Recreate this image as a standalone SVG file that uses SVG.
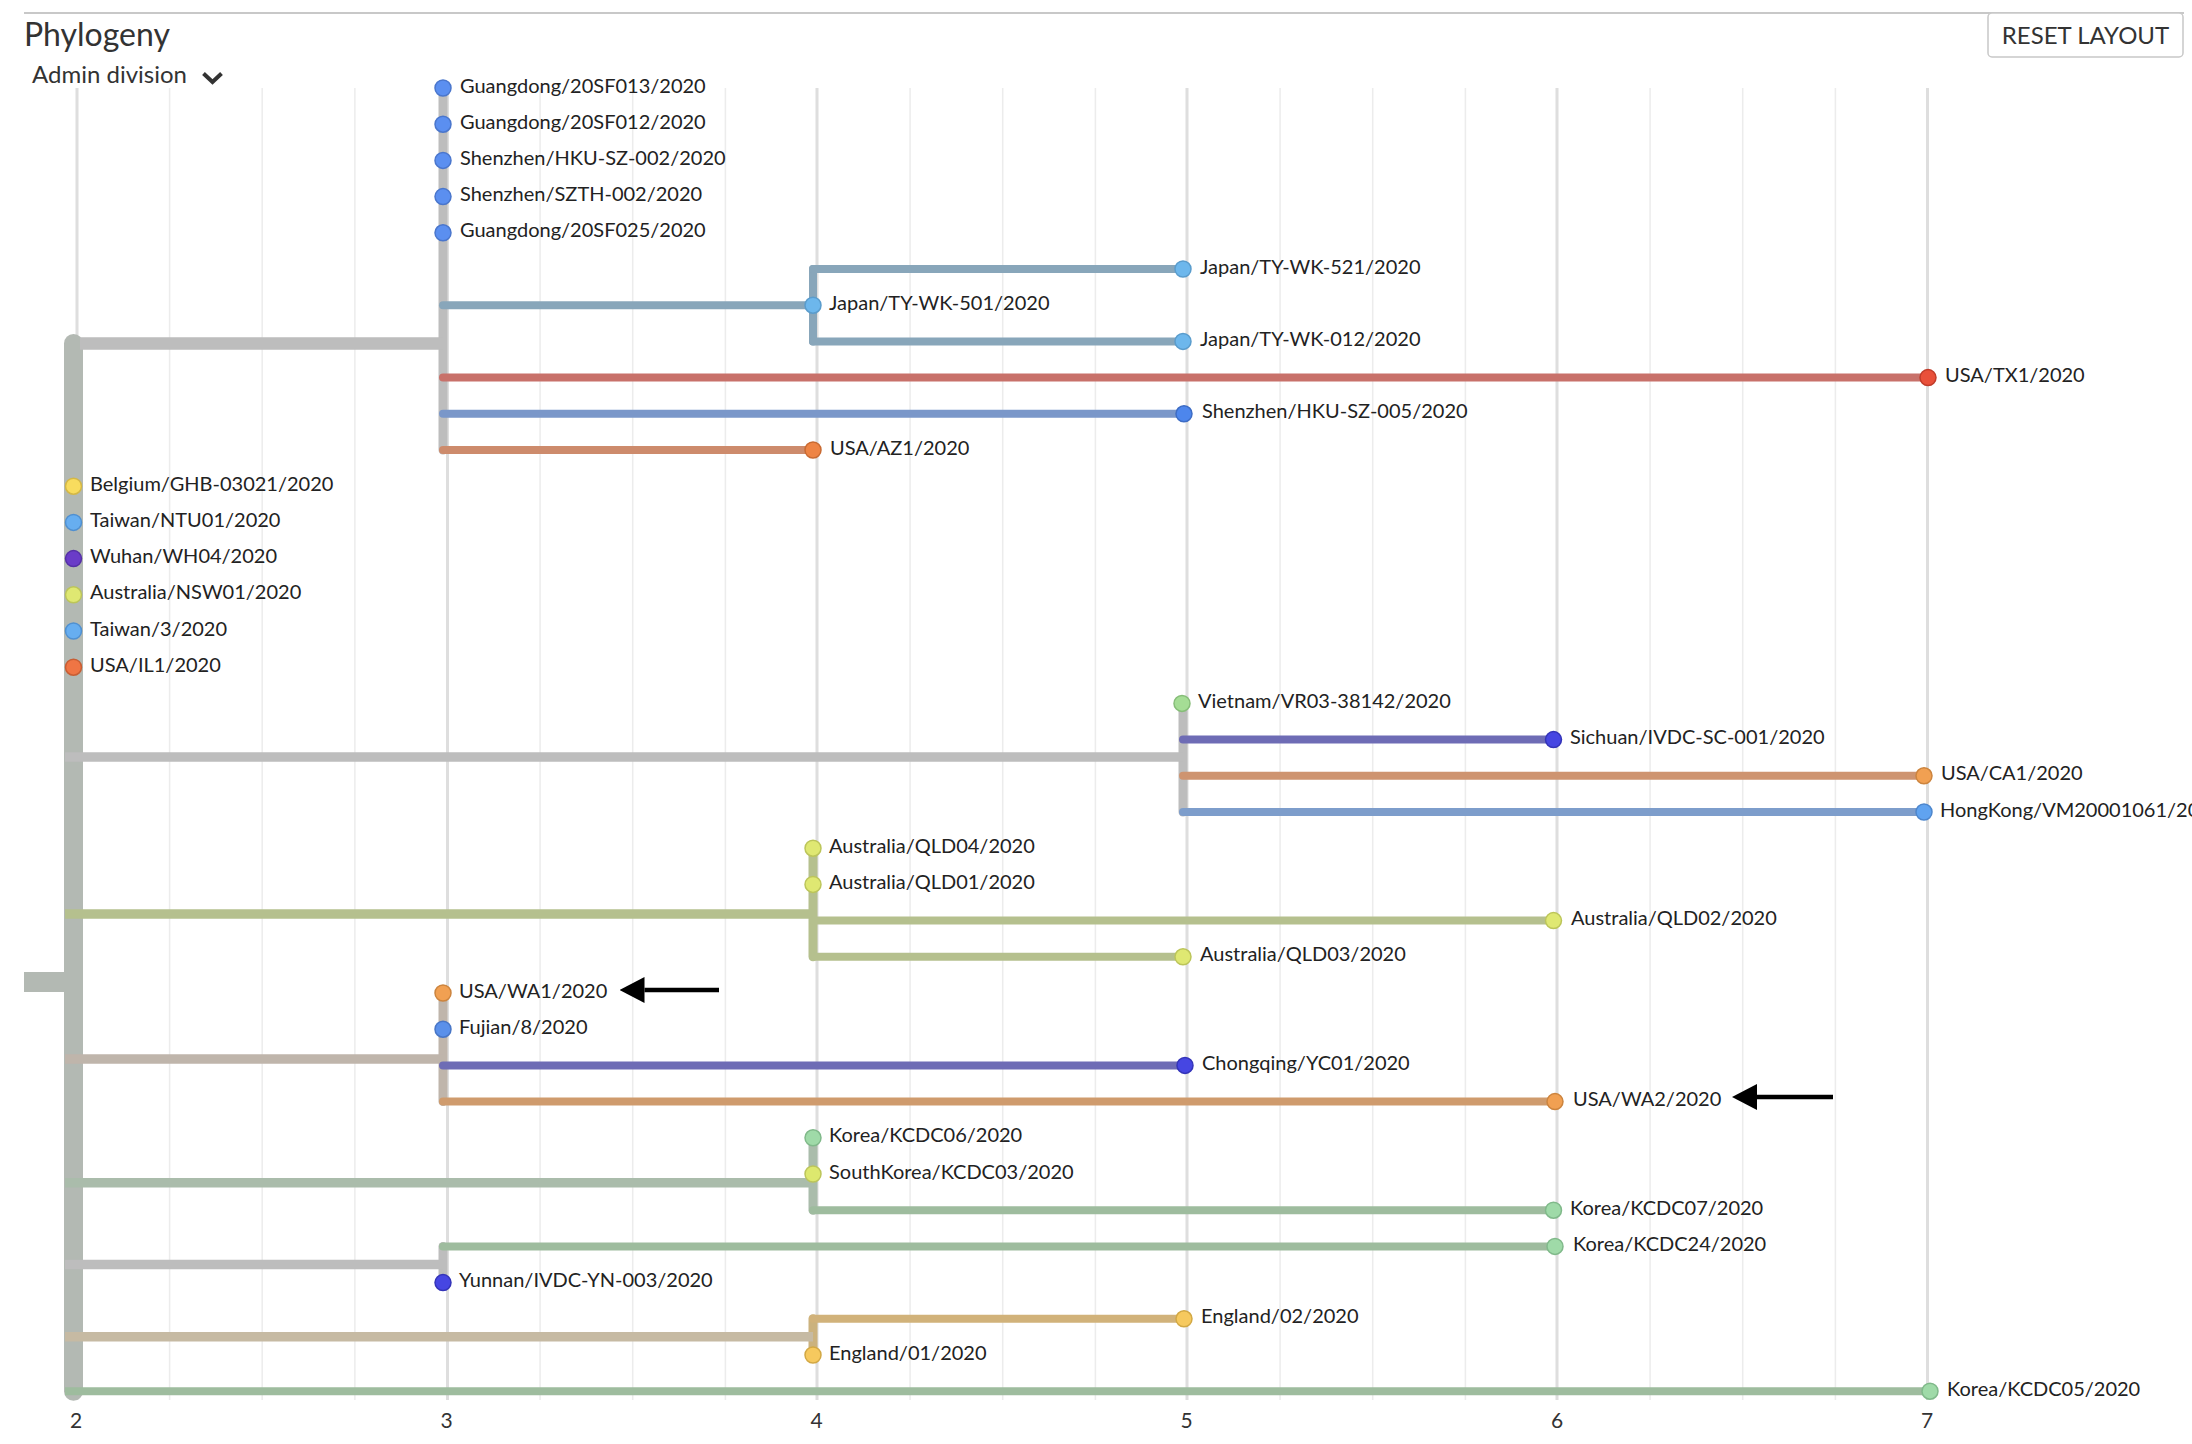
<svg xmlns="http://www.w3.org/2000/svg" width="2192" height="1444" viewBox="0 0 2192 1444">
<defs>
<style>
.t{font-family:Lato,"Liberation Sans",sans-serif;fill:#222}
.lbl{font-size:20px}
.ax{font-size:21px;fill:#333;text-anchor:middle}
.gmin{stroke:#ececec;stroke-width:1.5}
.gmaj{stroke:#dedede;stroke-width:3}
.br{fill:none;stroke-linecap:round}
.lf{stroke-width:8}
.st{stroke-width:9.5}
.vt{stroke-width:9}
.tip{stroke-width:1.5}
.arr{stroke:#000;stroke-width:4.5;fill:none}
</style>
<marker id="ah" markerUnits="userSpaceOnUse" markerWidth="25" markerHeight="26" viewBox="0 0 25 26" refX="0" refY="13" orient="auto">
<path d="M0,0 L25,13 L0,26 Z" fill="#000"/>
</marker>
</defs>
<rect width="2192" height="1444" fill="#fff"/>

<g id="header">
<line x1="24" y1="13" x2="2184" y2="13" stroke="#c8c8c8" stroke-width="2"/>
<text class="t" x="24" y="46" font-size="32" style="fill:#333">Phylogeny</text>
<text class="t" x="32" y="83" font-size="24" style="fill:#333">Admin division</text>
<path d="M203.5,73.5 L212.5,82 L221.5,73.5" fill="none" stroke="#333" stroke-width="4"/>
<rect x="1988" y="13" width="195" height="44" rx="4" fill="#fff" stroke="#c8c8c8" stroke-width="1.5"/>
<text class="t" x="2085.5" y="44" font-size="24" text-anchor="middle" style="fill:#333">RESET LAYOUT</text>
</g>

<g id="grid">
<line class="gmaj" x1="77" y1="88" x2="77" y2="1400"/>
<line class="gmin" x1="169.6" y1="88" x2="169.6" y2="1400"/>
<line class="gmin" x1="262.2" y1="88" x2="262.2" y2="1400"/>
<line class="gmin" x1="354.9" y1="88" x2="354.9" y2="1400"/>
<line class="gmaj" x1="447.5" y1="88" x2="447.5" y2="1400"/>
<line class="gmin" x1="540.1" y1="88" x2="540.1" y2="1400"/>
<line class="gmin" x1="632.7" y1="88" x2="632.7" y2="1400"/>
<line class="gmin" x1="725.4" y1="88" x2="725.4" y2="1400"/>
<line class="gmaj" x1="817" y1="88" x2="817" y2="1400"/>
<line class="gmin" x1="910.1" y1="88" x2="910.1" y2="1400"/>
<line class="gmin" x1="1002.7" y1="88" x2="1002.7" y2="1400"/>
<line class="gmin" x1="1095.4" y1="88" x2="1095.4" y2="1400"/>
<line class="gmaj" x1="1187" y1="88" x2="1187" y2="1400"/>
<line class="gmin" x1="1280.1" y1="88" x2="1280.1" y2="1400"/>
<line class="gmin" x1="1372.7" y1="88" x2="1372.7" y2="1400"/>
<line class="gmin" x1="1465.4" y1="88" x2="1465.4" y2="1400"/>
<line class="gmaj" x1="1557" y1="88" x2="1557" y2="1400"/>
<line class="gmin" x1="1650.1" y1="88" x2="1650.1" y2="1400"/>
<line class="gmin" x1="1742.7" y1="88" x2="1742.7" y2="1400"/>
<line class="gmin" x1="1835.4" y1="88" x2="1835.4" y2="1400"/>
<line class="gmaj" x1="1927.5" y1="88" x2="1927.5" y2="1400"/>
<text class="t ax" x="76" y="1428">2</text>
<text class="t ax" x="446.5" y="1428">3</text>
<text class="t ax" x="816.5" y="1428">4</text>
<text class="t ax" x="1186.5" y="1428">5</text>
<text class="t ax" x="1557" y="1428">6</text>
<text class="t ax" x="1927" y="1428">7</text>
</g>

<g id="connectors">
<!-- root -->
<rect x="24" y="972" width="45" height="20" fill="#b3b9b3"/>
<path class="br" d="M73.5,343.5 V1391.2" stroke="#b3b9b3" stroke-width="19"/>
<!-- internal verticals -->
<path class="br vt" d="M443,88 V450" stroke="#bdbdbd"/>
<path class="br vt" d="M813,269 V341.4" stroke="#88a6ba" style="stroke-width:8"/>
<path class="br vt" d="M1183,703.4 V812" stroke="#bdbdbd"/>
<path class="br vt" d="M813,848.2 V956.8" stroke="#b5c08e"/>
<path class="br vt" d="M443,993 V1101.6" stroke="#bfb5ab"/>
<path class="br vt" d="M813,1137.8 V1210.2" stroke="#aabcab"/>
<path class="br vt" d="M443,1246.4 V1282.6" stroke="#bdbdbd"/>
<path class="br vt" d="M813,1318.8 V1355" stroke="#cbb27e"/>
<!-- stems from root -->
<path d="M80,343.5 H443" stroke="#bdbdbd" stroke-width="12.5" fill="none"/>
<path class="st" d="M65,757 H1183" stroke="#bdbdbd" fill="none"/>
<path class="st" d="M65,914 H813" stroke="#b5c08e" fill="none"/>
<path class="st" d="M65,1059 H443" stroke="#bfb5ab" fill="none"/>
<path class="st" d="M65,1182.7 H813" stroke="#aabcab" fill="none"/>
<path class="st" d="M65,1264.5 H443" stroke="#bdbdbd" fill="none"/>
<path class="st" d="M65,1336.7 H813" stroke="#c6baa3" fill="none"/>
<path class="lf" d="M65,1391.2 H1928" stroke="#9ebc9e" fill="none"/>
<!-- top clade -->
<path class="br lf" d="M443,305.2 H813" stroke="#88a6ba"/>
<path class="br lf" d="M813,269 H1183" stroke="#88a6ba"/>
<path class="br lf" d="M813,341.4 H1183" stroke="#88a6ba"/>
<path class="br lf" d="M443,377.6 H1927" stroke="#c8716a"/>
<path class="br lf" d="M443,413.8 H1183" stroke="#7a97c9"/>
<path class="br lf" d="M443,450 H813" stroke="#cd8b6c"/>
<!-- node B -->
<path class="br lf" d="M1183,739.6 H1553.5" stroke="#6e6cb5"/>
<path class="br lf" d="M1183,775.8 H1924" stroke="#ce9470"/>
<path class="br lf" d="M1183,812 H1924" stroke="#7d9dcb"/>
<!-- node C -->
<path class="br lf" d="M813,920.6 H1553.5" stroke="#b5c08e"/>
<path class="br lf" d="M813,956.8 H1183" stroke="#b5c08e"/>
<!-- node D -->
<path class="br lf" d="M443,1065.4 H1183" stroke="#6e6cb5"/>
<path class="br lf" d="M443,1101.6 H1553.5" stroke="#cf9b6d"/>
<!-- node E -->
<path class="br lf" d="M813,1210.2 H1553.5" stroke="#9ebc9e"/>
<!-- node F -->
<path class="br lf" d="M443,1246.4 H1553.5" stroke="#9ebc9e"/>
<!-- node G -->
<path class="br lf" d="M813,1318.8 H1183" stroke="#d1b27a"/>
<!-- annotation arrows -->
<path class="arr" d="M719,990 H644.5" marker-end="url(#ah)"/>
<path class="arr" d="M1833,1097 H1757" marker-end="url(#ah)"/>
</g>

<g id="n-guangdong-20sf013"><circle class="tip" cx="443" cy="88" r="8" fill="#5b8ff0" stroke="#4a76cc"/><text class="t lbl" x="460" y="92.5">Guangdong/20SF013/2020</text></g>
<g id="n-guangdong-20sf012"><circle class="tip" cx="443" cy="124.2" r="8" fill="#5b8ff0" stroke="#4a76cc"/><text class="t lbl" x="460" y="128.7">Guangdong/20SF012/2020</text></g>
<g id="n-shenzhen-hku-sz-002"><circle class="tip" cx="443" cy="160.4" r="8" fill="#5b8ff0" stroke="#4a76cc"/><text class="t lbl" x="460" y="164.9">Shenzhen/HKU-SZ-002/2020</text></g>
<g id="n-shenzhen-szth-002"><circle class="tip" cx="443" cy="196.6" r="8" fill="#5b8ff0" stroke="#4a76cc"/><text class="t lbl" x="460" y="201.1">Shenzhen/SZTH-002/2020</text></g>
<g id="n-guangdong-20sf025"><circle class="tip" cx="443" cy="232.8" r="8" fill="#5b8ff0" stroke="#4a76cc"/><text class="t lbl" x="460" y="237.3">Guangdong/20SF025/2020</text></g>
<g id="n-japan-ty-wk-521"><circle class="tip" cx="1183" cy="269" r="8" fill="#6db7ec" stroke="#5a9ccc"/><text class="t lbl" x="1200" y="273.5">Japan/TY-WK-521/2020</text></g>
<g id="n-japan-ty-wk-501"><circle class="tip" cx="813" cy="305.2" r="8" fill="#6db7ec" stroke="#5a9ccc"/><text class="t lbl" x="829" y="309.7">Japan/TY-WK-501/2020</text></g>
<g id="n-japan-ty-wk-012"><circle class="tip" cx="1183" cy="341.4" r="8" fill="#6db7ec" stroke="#5a9ccc"/><text class="t lbl" x="1200" y="345.9">Japan/TY-WK-012/2020</text></g>
<g id="n-usa-tx1"><circle class="tip" cx="1928" cy="377.6" r="8" fill="#e9503a" stroke="#c03c2a"/><text class="t lbl" x="1945" y="382.1">USA/TX1/2020</text></g>
<g id="n-shenzhen-hku-sz-005"><circle class="tip" cx="1184" cy="413.8" r="8" fill="#4d86ec" stroke="#3d6cc4"/><text class="t lbl" x="1202" y="418.3">Shenzhen/HKU-SZ-005/2020</text></g>
<g id="n-usa-az1"><circle class="tip" cx="813" cy="450" r="8" fill="#ee8444" stroke="#c86a32"/><text class="t lbl" x="830" y="454.5">USA/AZ1/2020</text></g>
<g id="n-belgium"><circle class="tip" cx="73.5" cy="486.2" r="8" fill="#f8dc5e" stroke="#d4b846"/><text class="t lbl" x="90" y="490.7">Belgium/GHB-03021/2020</text></g>
<g id="n-taiwan-ntu01"><circle class="tip" cx="73.5" cy="522.4" r="8" fill="#67aef0" stroke="#5090d0"/><text class="t lbl" x="90" y="526.9">Taiwan/NTU01/2020</text></g>
<g id="n-wuhan-wh04"><circle class="tip" cx="73.5" cy="558.6" r="8" fill="#6a3cc8" stroke="#5530a6"/><text class="t lbl" x="90" y="563.1">Wuhan/WH04/2020</text></g>
<g id="n-australia-nsw01"><circle class="tip" cx="73.5" cy="594.8" r="8" fill="#dfe872" stroke="#bcc55a"/><text class="t lbl" x="90" y="599.3">Australia/NSW01/2020</text></g>
<g id="n-taiwan-3"><circle class="tip" cx="73.5" cy="631" r="8" fill="#67aef0" stroke="#5090d0"/><text class="t lbl" x="90" y="635.5">Taiwan/3/2020</text></g>
<g id="n-usa-il1"><circle class="tip" cx="73.5" cy="667.2" r="8" fill="#ef7544" stroke="#c85e34"/><text class="t lbl" x="90" y="671.7">USA/IL1/2020</text></g>
<g id="n-vietnam"><circle class="tip" cx="1182" cy="703.4" r="8" fill="#a5dd95" stroke="#86bd78"/><text class="t lbl" x="1198" y="707.9">Vietnam/VR03-38142/2020</text></g>
<g id="n-sichuan"><circle class="tip" cx="1553.5" cy="739.6" r="8" fill="#4646e2" stroke="#3434b8"/><text class="t lbl" x="1570" y="744.1">Sichuan/IVDC-SC-001/2020</text></g>
<g id="n-usa-ca1"><circle class="tip" cx="1924" cy="775.8" r="8" fill="#f1a052" stroke="#cc843e"/><text class="t lbl" x="1941" y="780.3">USA/CA1/2020</text></g>
<g id="n-hongkong"><circle class="tip" cx="1924" cy="812" r="8" fill="#60a3f0" stroke="#4d86cc"/><text class="t lbl" x="1940" y="816.5">HongKong/VM20001061/2020</text></g>
<g id="n-australia-qld04"><circle class="tip" cx="813" cy="848.2" r="8" fill="#dfe872" stroke="#bcc55a"/><text class="t lbl" x="829" y="852.7">Australia/QLD04/2020</text></g>
<g id="n-australia-qld01"><circle class="tip" cx="813" cy="884.4" r="8" fill="#dfe872" stroke="#bcc55a"/><text class="t lbl" x="829" y="888.9">Australia/QLD01/2020</text></g>
<g id="n-australia-qld02"><circle class="tip" cx="1553.5" cy="920.6" r="8" fill="#dfe872" stroke="#bcc55a"/><text class="t lbl" x="1571" y="925.1">Australia/QLD02/2020</text></g>
<g id="n-australia-qld03"><circle class="tip" cx="1183" cy="956.8" r="8" fill="#dfe872" stroke="#bcc55a"/><text class="t lbl" x="1200" y="961.3">Australia/QLD03/2020</text></g>
<g id="n-usa-wa1"><circle class="tip" cx="443" cy="993" r="8" fill="#f1a052" stroke="#cc843e"/><text class="t lbl" x="459" y="997.5">USA/WA1/2020</text></g>
<g id="n-fujian-8"><circle class="tip" cx="443" cy="1029.2" r="8" fill="#5a90ea" stroke="#4876c6"/><text class="t lbl" x="459" y="1033.7">Fujian/8/2020</text></g>
<g id="n-chongqing-yc01"><circle class="tip" cx="1185" cy="1065.4" r="8" fill="#4646e2" stroke="#3434b8"/><text class="t lbl" x="1202" y="1069.9">Chongqing/YC01/2020</text></g>
<g id="n-usa-wa2"><circle class="tip" cx="1555" cy="1101.6" r="8" fill="#f1a052" stroke="#cc843e"/><text class="t lbl" x="1573" y="1106.1">USA/WA2/2020</text></g>
<g id="n-korea-kcdc06"><circle class="tip" cx="813" cy="1137.8" r="8" fill="#9fdaa8" stroke="#80b98a"/><text class="t lbl" x="829" y="1142.3">Korea/KCDC06/2020</text></g>
<g id="n-southkorea-kcdc03"><circle class="tip" cx="813" cy="1174" r="8" fill="#dde86e" stroke="#bcc55a"/><text class="t lbl" x="829" y="1178.5">SouthKorea/KCDC03/2020</text></g>
<g id="n-korea-kcdc07"><circle class="tip" cx="1553.5" cy="1210.2" r="8" fill="#9fdaa8" stroke="#80b98a"/><text class="t lbl" x="1570" y="1214.7">Korea/KCDC07/2020</text></g>
<g id="n-korea-kcdc24"><circle class="tip" cx="1555" cy="1246.4" r="8" fill="#9fdaa8" stroke="#80b98a"/><text class="t lbl" x="1573" y="1250.9">Korea/KCDC24/2020</text></g>
<g id="n-yunnan"><circle class="tip" cx="443" cy="1282.6" r="8" fill="#4646e2" stroke="#3434b8"/><text class="t lbl" x="459" y="1287.1">Yunnan/IVDC-YN-003/2020</text></g>
<g id="n-england-02"><circle class="tip" cx="1184" cy="1318.8" r="8" fill="#f6c95e" stroke="#d2a844"/><text class="t lbl" x="1201" y="1323.3">England/02/2020</text></g>
<g id="n-england-01"><circle class="tip" cx="813" cy="1355" r="8" fill="#f6c95e" stroke="#d2a844"/><text class="t lbl" x="829" y="1359.5">England/01/2020</text></g>
<g id="n-korea-kcdc05"><circle class="tip" cx="1930" cy="1391.2" r="8" fill="#9fdaa8" stroke="#80b98a"/><text class="t lbl" x="1947" y="1395.7">Korea/KCDC05/2020</text></g>
</svg>
